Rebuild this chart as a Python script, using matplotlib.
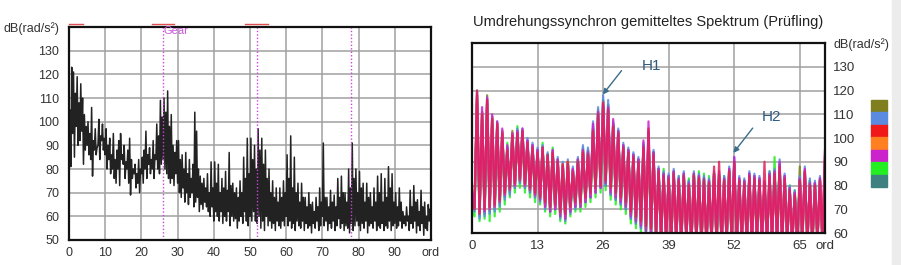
import numpy as np
import matplotlib
matplotlib.use("Agg")
import matplotlib.pyplot as plt
from matplotlib.patches import Rectangle

plt.rcParams["font.family"] = ["Liberation Sans", "DejaVu Sans"]

# ----------------------------------------------------------------------------
# Left panel: order spectrum, peaks and troughs (every 0.5 ord each)
# ----------------------------------------------------------------------------
left_peaks = [
    105, 123, 121, 112, 119, 108, 116, 110, 103, 98, 100, 95, 106, 92, 97, 89, 101, 94, 99, 93,
    97, 90, 93, 86, 95, 84, 88, 92, 95, 86, 90, 83, 88, 93, 84, 80, 82, 78, 84, 80,
    85, 88, 96, 86, 89, 84, 92, 86, 99, 94, 109, 102, 110, 104, 113, 98, 103, 90, 87, 92,
    92, 84, 86, 80, 87, 78, 84, 76, 82, 104, 96, 80, 77, 74, 76, 72, 78, 70, 83, 72,
    83, 74, 82, 70, 76, 72, 79, 71, 87, 73, 74, 70, 72, 68, 75, 70, 85, 76, 93, 78,
    93, 84, 90, 80, 97, 88, 93, 82, 88, 76, 80, 70, 75, 68, 72, 66, 72, 68, 75, 70,
    86, 76, 94, 72, 85, 70, 74, 66, 74, 68, 68, 64, 70, 65, 66, 62, 68, 64, 72, 66,
    91, 68, 68, 64, 71, 66, 69, 64, 76, 68, 77, 70, 70, 66, 80, 72, 91, 76, 80, 70,
    79, 72, 74, 66, 74, 68, 70, 64, 72, 66, 77, 70, 78, 66, 76, 68, 81, 72, 78, 66,
    70, 64, 72, 66, 62, 60, 64, 60, 71, 64, 73, 66, 67, 62, 71, 64, 66, 60, 65, 63,
]
left_troughs = [
    88, 81, 95, 85, 98, 90, 92, 96, 82, 88, 90, 86, 84, 77, 88, 86, 90, 84, 92, 88,
    86, 80, 84, 78, 80, 76, 74, 80, 73, 84, 82, 76, 80, 74, 69, 76, 78, 72, 74, 70,
    78, 74, 80, 76, 82, 78, 80, 76, 84, 80, 78, 82, 84, 80, 78, 76, 74, 76, 73, 78,
    74, 70, 68, 72, 66, 70, 65, 68, 70, 64, 66, 68, 62, 65, 63, 66, 64, 62, 60, 64,
    58, 62, 60, 58, 62, 57, 60, 58, 62, 56, 60, 58, 59, 55, 58, 60, 57, 62, 58, 56,
    60, 58, 62, 58, 57, 60, 55, 58, 54, 60, 56, 58, 55, 57, 54, 58, 56, 55, 58, 56,
    60, 56, 58, 55, 57, 54, 58, 56, 55, 58, 54, 57, 55, 56, 53, 57, 55, 58, 54, 56,
    60, 56, 58, 54, 57, 55, 58, 54, 56, 59, 55, 57, 54, 56, 55, 53, 57, 54, 56, 58,
    56, 54, 57, 55, 58, 53, 56, 57, 55, 58, 54, 56, 55, 57, 54, 56, 55, 58, 54, 56,
    57, 55, 56, 58, 55, 57, 56, 58, 54, 57, 55, 58, 53, 56, 54, 57, 52, 55, 54, 58,
]
left_xticks = [0, 10, 20, 30, 40, 50, 60, 70, 80, 90, 100]
left_xlabels = ["0", "10", "20", "30", "40", "50", "60", "70", "80", "90", "ord"]
left_yticks = [50, 60, 70, 80, 90, 100, 110, 120, 130, 140]
left_ylabels = ["50", "60", "70", "80", "90", "100", "110", "120", "130", "dB(rad/s²)"]
gear_orders = [26, 52, 78]
red_marks = [(0, 4), (23, 29), (48.5, 55)]

# ----------------------------------------------------------------------------
# Right panel: revolution-synchronous averaged spectrum, 7 runs (every 0.5 ord)
# ----------------------------------------------------------------------------
run_olive = [
    73, 70, 117, 68, 110, 69, 118, 70, 108, 71, 105, 73, 102, 76, 96, 78, 103, 80, 102, 82,
    103, 80, 99, 78, 97, 76, 95, 75, 96, 72, 93, 70, 94, 71, 91, 68, 89, 67, 90, 70,
    87, 72, 91, 72, 95, 74, 95, 76, 104, 78, 112, 80, 116, 81, 114, 77, 106, 75, 103, 73,
    97, 71, 95, 67, 93, 65, 91, 63, 97, 61, 103, 60, 94, 58, 87, 58, 85, 57, 84, 56,
    86, 57, 83, 56, 85, 58, 82, 56, 85, 57, 84, 56, 83, 56, 82, 57, 85, 56, 84, 56,
    83, 57, 87, 56, 89, 56, 83, 57, 82, 56, 85, 56, 84, 57, 83, 56, 81, 56, 85, 57,
    86, 56, 89, 56, 84, 57, 79, 56, 77, 56, 88, 57, 85, 56, 82, 56, 81, 57, 82, 56,
    92,
]
run_green = [
    70, 67, 116, 65, 108, 66, 114, 65, 106, 67, 104, 69, 100, 72, 98, 75, 100, 77, 105, 79,
    102, 77, 98, 75, 96, 73, 94, 72, 98, 69, 93, 67, 96, 68, 90, 65, 88, 64, 90, 67,
    86, 69, 91, 69, 95, 71, 94, 73, 104, 75, 108, 77, 112, 78, 110, 74, 106, 72, 102, 70,
    96, 68, 95, 64, 93, 62, 91, 60, 97, 59, 100, 58, 94, 57, 87, 56, 87, 56, 84, 55,
    86, 56, 84, 55, 85, 56, 83, 55, 85, 55, 86, 54, 85, 55, 84, 56, 85, 55, 84, 54,
    84, 55, 86, 55, 88, 54, 82, 55, 82, 54, 84, 55, 83, 55, 82, 54, 80, 55, 86, 55,
    92, 54, 88, 55, 84, 55, 80, 54, 78, 55, 83, 55, 86, 54, 82, 55, 81, 55, 83, 54,
    88,
]
run_teal = [
    74, 70, 120, 67, 111, 68, 116, 69, 109, 70, 106, 72, 103, 75, 96, 77, 102, 79, 103, 81,
    103, 79, 99, 77, 97, 75, 95, 74, 96, 71, 93, 69, 94, 70, 91, 67, 89, 66, 90, 69,
    87, 71, 91, 71, 96, 73, 95, 75, 105, 77, 111, 79, 116, 80, 114, 76, 106, 74, 103, 72,
    97, 70, 95, 66, 93, 64, 91, 62, 97, 60, 102, 59, 94, 58, 87, 57, 85, 56, 84, 56,
    86, 56, 83, 55, 85, 57, 82, 55, 85, 56, 84, 55, 83, 55, 82, 56, 85, 55, 84, 55,
    83, 56, 87, 55, 90, 55, 83, 56, 82, 55, 85, 55, 84, 56, 83, 55, 81, 55, 85, 56,
    86, 55, 89, 55, 84, 56, 79, 55, 77, 55, 83, 56, 86, 55, 82, 55, 81, 56, 83, 55,
    91,
]
run_blue = [
    74, 69, 119, 66, 111, 67, 117, 68, 109, 69, 107, 71, 103, 74, 96, 76, 102, 79, 104, 81,
    104, 79, 100, 77, 98, 75, 96, 73, 97, 70, 94, 69, 95, 70, 92, 66, 90, 65, 91, 68,
    88, 70, 92, 71, 97, 73, 96, 75, 107, 77, 113, 79, 118, 80, 116, 76, 107, 74, 104, 72,
    98, 70, 96, 66, 94, 64, 92, 62, 98, 60, 102, 59, 95, 58, 88, 57, 86, 56, 85, 56,
    87, 56, 84, 55, 86, 57, 82, 55, 86, 56, 85, 55, 84, 55, 83, 56, 86, 55, 85, 55,
    84, 56, 88, 55, 92, 55, 84, 56, 83, 55, 86, 55, 85, 56, 84, 55, 80, 55, 86, 56,
    87, 55, 91, 55, 85, 56, 80, 55, 78, 55, 84, 56, 88, 55, 83, 55, 82, 56, 84, 55,
    90,
]
run_orange = [
    76, 71, 118, 69, 111, 70, 115, 70, 109, 71, 106, 73, 103, 76, 95, 78, 102, 80, 101, 82,
    102, 80, 98, 78, 96, 76, 94, 75, 95, 72, 92, 70, 94, 71, 90, 68, 89, 67, 90, 70,
    86, 72, 90, 72, 94, 74, 93, 76, 102, 78, 108, 80, 112, 82, 110, 78, 104, 76, 101, 74,
    95, 72, 93, 68, 91, 66, 89, 64, 95, 62, 101, 61, 92, 59, 85, 58, 83, 57, 82, 56,
    84, 57, 81, 56, 83, 58, 80, 56, 83, 57, 82, 56, 81, 56, 80, 57, 84, 56, 83, 56,
    82, 57, 85, 56, 88, 56, 81, 57, 80, 56, 83, 56, 82, 57, 81, 56, 79, 56, 83, 57,
    84, 56, 87, 56, 82, 57, 77, 56, 76, 56, 81, 57, 84, 56, 80, 56, 79, 57, 81, 56,
    90,
]
run_magenta = [
    78, 71, 118, 69, 113, 69, 117, 70, 110, 71, 107, 73, 104, 76, 97, 78, 102, 80, 103, 82,
    104, 80, 99, 78, 97, 76, 95, 74, 96, 71, 92, 69, 95, 70, 91, 67, 88, 66, 89, 69,
    87, 71, 91, 71, 95, 73, 94, 75, 106, 77, 111, 79, 114, 81, 113, 77, 108, 75, 103, 73,
    97, 71, 95, 67, 93, 65, 91, 63, 99, 61, 107, 60, 94, 59, 87, 57, 85, 57, 84, 56,
    86, 57, 83, 56, 85, 58, 81, 55, 85, 57, 84, 56, 83, 55, 82, 57, 85, 56, 86, 55,
    83, 57, 87, 56, 92, 55, 83, 57, 82, 56, 85, 55, 84, 57, 83, 56, 82, 55, 85, 57,
    86, 56, 90, 55, 84, 57, 79, 56, 77, 55, 83, 57, 87, 56, 81, 55, 81, 57, 83, 56,
    94,
]
run_red = [
    72, 70, 120, 68, 110, 70, 116, 71, 108, 72, 106, 74, 102, 77, 95, 79, 101, 81, 102, 83,
    103, 81, 98, 79, 96, 77, 94, 75, 96, 73, 93, 71, 94, 72, 90, 69, 89, 68, 90, 71,
    86, 73, 90, 73, 94, 75, 93, 77, 103, 79, 110, 80, 115, 82, 112, 79, 105, 77, 102, 75,
    96, 73, 94, 69, 92, 67, 90, 65, 96, 63, 104, 62, 93, 60, 86, 59, 84, 58, 83, 57,
    85, 58, 82, 57, 84, 59, 80, 56, 84, 58, 83, 57, 82, 56, 81, 58, 88, 57, 90, 56,
    82, 58, 86, 57, 90, 56, 82, 58, 81, 57, 84, 56, 83, 58, 82, 57, 90, 56, 84, 58,
    85, 57, 88, 56, 83, 58, 78, 57, 76, 56, 82, 58, 86, 57, 80, 56, 80, 58, 82, 57,
    95,
]
runs = [run_olive, run_green, run_teal, run_blue, run_orange, run_magenta, run_red]
run_colors = ["#7f7f1f", "#22ee22", "#3f8080", "#5b8be0", "#ff8020", "#cc22cc", "#e0205a"]
legend_colors = ["#7f7f1f", "#5b8be0", "#f01818", "#ff8020", "#cc22cc", "#22ee22", "#3f8080"]

right_xticks = [0, 13, 26, 39, 52, 65, 70]
right_xlabels = ["0", "13", "26", "39", "52", "65", "ord"]
right_yticks = [60, 70, 80, 90, 100, 110, 120, 130, 140]
right_ylabels = ["60", "70", "80", "90", "100", "110", "120", "130", "dB(rad/s²)"]
right_title = "Umdrehungssynchron gemitteltes Spektrum (Prüfling)"

TXT = "#333333"
GRID = "#a0a0a0"


def style_axes(ax, size):
    ax.grid(True, color=GRID, lw=1.1)
    ax.set_axisbelow(True)
    for s in ax.spines.values():
        s.set_linewidth(1.6)
        s.set_color("#111111")
    ax.tick_params(length=0, labelsize=size, labelcolor=TXT)


fig = plt.figure(figsize=(9.01, 2.65), dpi=100)
W, H = 901, 265

# ---- left panel ------------------------------------------------------------
axl = fig.add_axes([69 / W, 1 - 240 / H, 362 / W, 213 / H])
y = np.empty(len(left_peaks) * 2)
y[0::2] = left_troughs
y[1::2] = left_peaks
x = np.arange(len(y)) * 0.25
axl.plot(x, y, color="#222222", lw=1.1)
for g in gear_orders:
    axl.axvline(g, color="#cc44dd", ls=(0, (1, 1.5)), lw=1.0)
axl.text(26.2, 138.5, "Gear", color="#cc55dd", fontsize=8, va="center", ha="left")
for a, b in red_marks:
    axl.plot([a, b], [141.2, 141.2], color="#e05050", lw=1.0, clip_on=False)
axl.set_xlim(0, 100)
axl.set_ylim(50, 140)
axl.set_xticks(left_xticks, left_xlabels)
axl.set_yticks(left_yticks, left_ylabels)
style_axes(axl, 9)
axl.tick_params(axis="y", pad=7)
axl.tick_params(axis="x", pad=5)

# ---- right panel -----------------------------------------------------------
axr = fig.add_axes([472 / W, 1 - 233 / H, 353 / W, 190 / H])
xr = np.arange(len(run_red)) * 0.5
for run, c in zip(runs, run_colors):
    axr.plot(xr, run, color=c, lw=1.6, alpha=0.85)
axr.set_xlim(0, 70)
axr.set_ylim(60, 140)
axr.set_xticks(right_xticks, right_xlabels)
axr.set_yticks(right_yticks, right_ylabels)
axr.yaxis.tick_right()
style_axes(axr, 9.5)
axr.tick_params(axis="y", pad=6)
axr.tick_params(axis="x", pad=5)
for lab in axr.get_yticklabels()[-1:]:
    lab.set_fontsize(9)
axr.set_title(right_title, fontsize=10.5, color="#222222", pad=12)

arrow = dict(arrowstyle="-|>", color="#3a6d8c", lw=1.0, mutation_scale=8)
axr.annotate("", xy=(25.6, 117.4), xytext=(30.0, 129.3), arrowprops=arrow)
axr.text(35.6, 130.4, "H1", color="#2e5a80", fontsize=11, ha="center", va="center")
axr.annotate("", xy=(51.5, 92.8), xytext=(56.0, 105.1), arrowprops=arrow)
axr.text(59.3, 108.7, "H2", color="#2e5a80", fontsize=11, ha="center", va="center")

# colour key of the runs, stacked squares right of the panel
sq_h = 87 / 7
for i, c in enumerate(legend_colors):
    top = 100 + i * sq_h
    fig.patches.append(Rectangle((871 / W, 1 - (top + sq_h) / H), 16 / W, sq_h / H,
                                 transform=fig.transFigure, color=c))

# faint grey strip at the right edge
fig.patches.append(Rectangle((892 / W, 0), 9 / W, 1, transform=fig.transFigure,
                             color="#ececec", zorder=-1))

fig.savefig("out.png", dpi=100)
